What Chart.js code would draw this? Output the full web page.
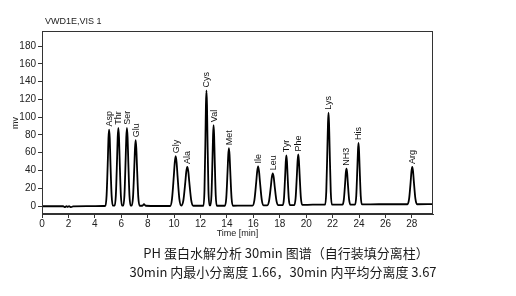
<!DOCTYPE html>
<html><head><meta charset="utf-8">
<script src="https://cdn.jsdelivr.net/npm/chart.js"></script>
<style>html,body{margin:0;padding:0;background:#fff}#c{display:block}</style>
</head><body>
<canvas id="c" width="516" height="296"></canvas>
<script>
// Chromatogram trace (time in min, signal in mV)
const times = [
0,1.6,1.75,1.85,1.95,2.05,2.2,2.35,3.5,4.6,
4.80,4.89,4.985,5.03,5.08,5.13,5.175,5.27,5.36,
5.50,5.59,5.685,5.73,5.78,5.83,5.875,5.97,6.06,
6.15,6.24,6.335,6.38,6.43,6.48,6.525,6.62,6.71,
6.79,6.89,6.99,7.04,7.09,7.14,7.19,7.29,7.39,
7.6,7.72,7.85,8.8,9.6,
9.70,9.84,9.98,10.05,10.12,10.19,10.26,10.40,10.54,
10.70,10.85,10.925,11.0,11.075,11.15,11.30,11.45,
12.0,
12.225,12.30,12.375,12.41,12.45,12.49,12.525,12.60,12.675,
12.75,12.83,12.91,12.95,12.99,13.03,13.07,13.15,13.23,
13.85,13.95,14.05,14.10,14.15,14.20,14.25,14.35,14.45,
15.2,
15.94,16.08,16.22,16.29,16.36,16.43,16.50,16.64,16.78,
17.05,17.19,17.33,17.40,17.47,17.54,17.61,17.75,17.89,
18.23,18.32,18.41,18.455,18.5,18.545,18.59,18.68,18.77,
19.10,19.20,19.30,19.35,19.40,19.45,19.50,19.60,19.70,
20.5,
21.435,21.52,21.605,21.65,21.69,21.73,21.775,21.86,21.945,
22.75,22.85,22.95,23.00,23.05,23.10,23.15,23.25,23.35,
23.705,23.79,23.875,23.92,23.96,24.00,24.045,24.13,24.215,
25.5,27.3,
27.67,27.79,27.91,27.97,28.03,28.09,28.15,28.27,28.39,
29.6
];
const signal = [
-0.3,-0.3,-1.2,-0.2,-1.0,-0.3,-1.2,-0.4,-0.2,0,
0.2,12,52,76,86,76,52,12,0.5,
0.5,12,54,77,88,77,54,12,0.5,
0.5,12,54,77,88,77,54,12,0.5,
0.5,10,45,65,74,65,45,10,0.3,
0.3,2,0.3,0,0,
0,7.8,34,49,56,49,34,7.8,0.5,
6.2,27,39,44,39,27,6.2,0.3,
0.3,
0.3,18,79,114,130,114,79,18,0.6,
0.6,12.7,55.5,80,91,80,55.5,12.7,0.3,
0.3,9,40,57,65,57,40,9,0.3,
0.4,
0.5,6.7,27.3,39,44.5,39,27.3,6.7,0.8,
0.8,5.8,22.8,32.5,36.8,32.5,22.8,5.8,1,
1,8.8,35,50,57,50,35,8.8,1,
1,9,36,51,58,51,36,9,1.2,
1.5,
1.5,16,65,93,105,93,65,16,1.5,
1.5,7.2,26.5,37.5,42,37.5,26.5,7.2,1.6,
1.6,11.3,43.7,62.5,71,62.5,43.7,11.3,1.8,
2,2,
2,7.9,27.6,39,44,39,27.6,7.9,2,
2.2
];
const peakNames = ['Asp','Thr','Ser','Glu','Gly','Ala','Cys','Val','Met','Ile','Leu','Tyr','Phe','Lys','NH3','His','Arg'];
const peakTimes = [5.08,5.78,6.43,7.09,10.12,11.0,12.45,12.99,14.15,16.36,17.47,18.5,19.4,21.69,23.05,23.96,28.03];
const peakHeights = [86,88,88,74,56,44,130,91,65,44.5,36.8,57,58,105,42,71,44];
const xTicks = [0,2,4,6,8,10,12,14,16,18,20,22,24,26,28];
const yTicks = [0,20,40,60,80,100,120,140,160,180];
const titleText = 'VWD1E,VIS 1';
const yTitle = 'mv';
const xTitle = 'Time [min]';
const caption1 = 'PH 蛋白水解分析 30min 图谱（自行装填分离柱）';
const caption2 = '30min 内最小分离度 1.66，30min 内平均分离度 3.67';

const LAT = '"Liberation Sans", Arial, sans-serif';
const CJK = '"Noto Sans CJK SC", "Liberation Sans", sans-serif';

const extras = {
  id: 'extras',
  afterDatasetsDraw(chart) {
    const {ctx, chartArea: a, scales: {x, y}} = chart;
    ctx.save();
    ctx.strokeStyle = '#333';
    ctx.lineWidth = 1;
    ctx.strokeRect(Math.round(a.left) + 0.5, Math.round(a.top) + 0.5, Math.round(a.right - a.left) - 1, Math.round(a.bottom - a.top) - 1);
    ctx.fillStyle = '#111';
    ctx.font = '9px ' + LAT;
    ctx.textAlign = 'left';
    ctx.textBaseline = 'middle';
    peakNames.forEach((n, i) => {
      const px = x.getPixelForValue(peakTimes[i]);
      const py = y.getPixelForValue(peakHeights[i]) - 3;
      ctx.save();
      ctx.translate(px, py);
      ctx.rotate(-Math.PI / 2);
      ctx.fillText(n, 0, 0.5);
      ctx.restore();
    });
    ctx.restore();
  },
  afterDraw(chart) {
    const {ctx, chartArea: a} = chart;
    ctx.save();
    ctx.fillStyle = '#222';
    ctx.font = '9px ' + LAT;
    ctx.textAlign = 'left';
    ctx.textBaseline = 'middle';
    ctx.fillText(titleText, 45, 22);
    ctx.textAlign = 'center';
    ctx.fillText(xTitle, (a.left + a.right) / 2, 234);
    ctx.save();
    ctx.translate(16, 123);
    ctx.rotate(-Math.PI / 2);
    ctx.fillText(yTitle, 0, 0);
    ctx.restore();
    ctx.fillStyle = '#1a1a1a';
    ctx.font = '13px ' + CJK;
    ctx.fillText(caption1, 286, 253);
    ctx.fillText(caption2, 283, 272);
    ctx.restore();
  }
};

new Chart(document.getElementById('c'), {
  type: 'line',
  data: {
    datasets: [{
      data: times.map((t, i) => ({x: t, y: signal[i]})),
      borderColor: '#000',
      borderWidth: 1.8,
      pointRadius: 0,
      fill: false,
      cubicInterpolationMode: 'monotone'
    }]
  },
  options: {
    responsive: false,
    animation: false,
    devicePixelRatio: 1,
    layout: {padding: {left: 0, right: 83, top: 31, bottom: 62}},
    plugins: {legend: {display: false}, tooltip: {enabled: false}, title: {display: false}},
    scales: {
      x: {
        type: 'linear', min: 0, max: 29.6,
        afterBuildTicks: s => { s.ticks = xTicks.map(v => ({value: v})); },
        afterFit: s => { s.height = 20; },
        ticks: {font: {size: 10, family: LAT}, color: '#222', padding: 0, maxRotation: 0, autoSkip: false, callback: v => String(v)},
        grid: {drawOnChartArea: false, drawTicks: true, tickLength: 4, color: '#333'},
        border: {display: true, color: '#333'}
      },
      y: {
        type: 'linear', min: -9, max: 197,
        afterBuildTicks: s => { s.ticks = yTicks.map(v => ({value: v})); },
        afterFit: s => { s.width = 42; },
        ticks: {font: {size: 10, family: LAT}, color: '#222', padding: 2, autoSkip: false, callback: v => String(v)},
        grid: {drawOnChartArea: false, drawTicks: true, tickLength: 4, color: '#333'},
        border: {display: true, color: '#333'}
      }
    }
  },
  plugins: [extras]
});
</script>
</body></html>
